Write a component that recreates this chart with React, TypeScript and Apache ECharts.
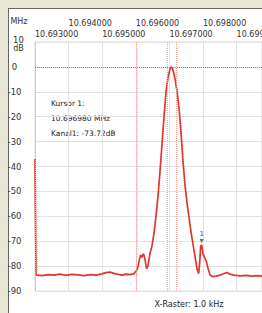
import React, { useEffect, useRef } from "react";
import * as echarts from "echarts";

// Frequency offset from 10.693000 MHz, in kHz
const freqOffsetKHz = [
  0.0, 0.03, 0.21, 0.39, 0.57, 0.74, 0.92, 1.1, 1.28, 1.46, 1.64, 1.82, 1.99, 2.11, 2.23,
  2.35, 2.47, 2.59, 2.71, 2.83, 2.95, 3.04, 3.1, 3.14, 3.18, 3.23, 3.27, 3.32, 3.36, 3.42,
  3.48, 3.54, 3.6, 3.66, 3.72, 3.78, 3.84, 3.9, 3.96, 4.02, 4.05, 4.08, 4.12, 4.17, 4.23,
  4.29, 4.35, 4.4, 4.46, 4.52, 4.58, 4.64, 4.7, 4.76, 4.82, 4.87, 4.9, 4.93, 4.96, 5.0,
  5.06, 5.1, 5.15, 5.21, 5.27, 5.39, 5.51, 5.63, 5.71, 5.8, 5.92, 6.1, 6.28, 6.46, 6.64, 6.76,
];
// Level in dB
const levelDb = [
  -37, -83.5, -83.8, -83.4, -83.6, -83.2, -83.7, -83.3, -83.5, -83.8, -83.4, -83.6, -83.1, -82.6, -82.4,
  -82.9, -83.3, -83.6, -83.2, -83.4, -83.0, -81.5, -78, -75.5, -76.5, -75, -77, -81, -80, -75,
  -72, -67, -60, -52, -42, -31, -20, -10, -4, -0.8, 0, -0.3, -2, -5, -10,
  -17, -27, -37, -47, -54, -60, -66, -71, -76, -81, -83, -79, -72, -71.5, -75,
  -77, -78, -81, -83.5, -84.2, -84, -83.6, -83, -82.6, -83.2, -83.6, -83.9, -83.7, -84, -83.8, -84,
];
const baseMHz = 10.693;
const xMaxKHz = 6.756;
const cursorLinesKHz = [0, 3, 3.95, 4.2];
const refLevelDb = 0;
const markerKHz = 4.96;
const markerDb = -71.5;
const markerLabel = "1";
const cursorText = ["Kursor 1:", "10.696980 MHz", "Kanal1: -73.72dB"];

export default function App() {
  const ref = useRef<HTMLDivElement>(null);
  useEffect(() => {
    if (!ref.current) return;
    const chart = echarts.init(ref.current, null, { renderer: "svg" });
    const fmt = (v: number) => (baseMHz + v / 1000).toFixed(6);
    const isInt = (v: number) => Math.abs(v - Math.round(v)) < 1e-6;
    const font = "DejaVu Sans";
    const txt = (x: number, y: number, text: string, size: number, align: string, fill = "#333") => ({
      type: "text",
      x,
      y,
      style: { text, fontFamily: font, fontSize: size, fill, align, verticalAlign: "middle" },
    });
    chart.setOption({
      animation: false,
      backgroundColor: "#e7e5d3",
      textStyle: { fontFamily: font },
      grid: {
        left: 35,
        top: 42,
        right: 0,
        bottom: 22,
        outerBoundsMode: "none",
        containLabel: false,
        show: true,
        borderColor: "#dcdcdc",
        borderWidth: 1,
        backgroundColor: "transparent",
      },
      xAxis: [
        {
          type: "value",
          position: "top",
          min: 0,
          max: xMaxKHz,
          interval: 1,
          axisLine: { show: false },
          axisTick: { show: false },
          splitLine: { show: true, lineStyle: { color: "#e2e2e2", width: 1 } },
          axisLabel: {
            fontFamily: font,
            fontSize: 8,
            color: "#333",
            align: "left",
            margin: 4,
            showMaxLabel: false,
            formatter: (v: number) => (isInt(v) && Math.round(v) % 2 === 0 ? fmt(v) : ""),
          },
        },
        {
          type: "value",
          position: "top",
          min: 0,
          max: xMaxKHz,
          interval: 1,
          axisLine: { show: false },
          axisTick: { show: false },
          splitLine: { show: false },
          axisLabel: {
            fontFamily: font,
            fontSize: 8,
            color: "#333",
            align: "left",
            margin: 15,
            showMaxLabel: false,
            formatter: (v: number) => (isInt(v) && Math.round(v) % 2 === 1 ? fmt(v) : ""),
          },
        },
      ],
      yAxis: {
        type: "value",
        min: -90,
        max: 10,
        interval: 10,
        axisLine: { show: false },
        axisTick: { show: false },
        splitLine: { show: true, lineStyle: { color: "#e2e2e2", width: 1 } },
        axisLabel: {
          fontFamily: font,
          fontSize: 8.5,
          color: "#333",
          align: "center",
          margin: 20.5,
          formatter: (v: number) => (v === 10 ? "" : String(v)),
        },
      },
      graphic: [
        { type: "rect", z: -10, shape: { x: 8, y: 8, width: 254, height: 305 }, style: { fill: "#ffffff" } },
        { type: "line", z: -9, shape: { x1: 8.5, y1: 8, x2: 8.5, y2: 313 }, style: { stroke: "#666", lineWidth: 1 } },
        { type: "line", z: -9, shape: { x1: 8, y1: 8.5, x2: 262, y2: 8.5 }, style: { stroke: "#666", lineWidth: 1 } },
        txt(19, 21.5, "MHz", 8, "center"),
        txt(18.5, 40, "10", 8.5, "center"),
        txt(18.5, 48, "dB", 8, "center"),
        txt(51, 103, cursorText[0], 7.5, "left", "#222"),
        txt(51, 118, cursorText[1], 7.5, "left", "#222"),
        txt(51, 133, cursorText[2], 7.5, "left", "#222"),
        txt(189, 304, "X-Raster: 1.0 kHz", 8, "center", "#222"),
      ],
      series: [
        {
          type: "line",
          xAxisIndex: 0,
          data: [],
          markLine: {
            silent: true,
            symbol: "none",
            label: { show: false },
            lineStyle: { color: "#f3a39b", type: "dotted", width: 1 },
            data: cursorLinesKHz.map((x) => ({ xAxis: x })),
          },
        },
        {
          type: "line",
          xAxisIndex: 0,
          data: [],
          markLine: {
            silent: true,
            symbol: "none",
            label: { show: false },
            lineStyle: { color: "#8a8a8a", type: "dotted", width: 1 },
            data: [{ yAxis: refLevelDb }],
          },
        },
        {
          type: "line",
          xAxisIndex: 0,
          data: freqOffsetKHz.map((f, i) => [f, levelDb[i]]),
          showSymbol: false,
          symbol: "none",
          lineStyle: { color: "#e2362a", width: 1.7 },
          markPoint: {
            silent: true,
            data: [
              {
                coord: [markerKHz, markerDb],
                symbol: "triangle",
                symbolRotate: 180,
                symbolSize: [4, 4],
                symbolOffset: [0, -4],
                itemStyle: { color: "#666" },
                label: {
                  show: true,
                  formatter: markerLabel,
                  position: "top",
                  distance: 1,
                  fontFamily: font,
                  fontSize: 7,
                  color: "#555",
                },
              },
            ],
          },
        },
      ],
    });
    return () => chart.dispose();
  }, []);
  return <div ref={ref} style={{ position: "absolute", left: 0, top: 0, width: 262, height: 313 }} />;
}
